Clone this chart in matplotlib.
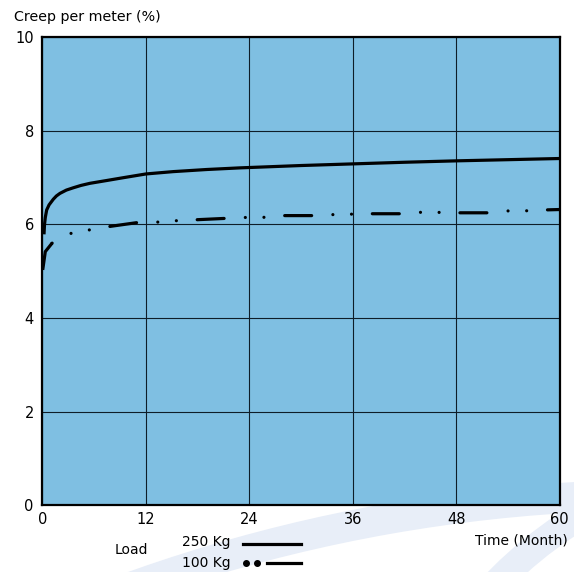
import numpy as np
import matplotlib
matplotlib.use("Agg")
import matplotlib.pyplot as plt
from matplotlib.patches import Arc
from matplotlib.lines import Line2D

plt.rcParams['font.family'] = ['DejaVu Sans']
plt.rcParams['lines.scale_dashes'] = False

# values
months_250 = [0.21, 0.27, 0.36, 0.52, 0.80, 1.29, 1.65, 2.06, 2.8, 3.61, 4.5, 5.54,
              7.48, 9.40, 12.03, 15.2, 19.07, 22.93, 30, 36, 42, 48, 54, 60]
creep_250 = [5.79, 6.00, 6.15, 6.31, 6.42, 6.54, 6.61, 6.665, 6.735, 6.785, 6.835,
             6.88, 6.94, 7.00, 7.08, 7.13, 7.175, 7.21, 7.26, 7.295, 7.33, 7.36,
             7.385, 7.41]

months_100 = [0.06, 0.36, 1.14, 3.34, 5.34, 7.51, 10.99, 13.28, 15.43, 17.68,
              21.16, 23.28, 25.52, 27.65, 31.36, 33.48, 35.65, 37.77, 41.45,
              43.6, 45.7, 47.94, 51.57, 53.7, 55.8, 57.97, 60]
creep_100 = [5.03, 5.42, 5.60, 5.81, 5.88, 5.95, 6.04, 6.05, 6.08, 6.10,
             6.13, 6.15, 6.15, 6.19, 6.19, 6.21, 6.22, 6.23, 6.23,
             6.26, 6.26, 6.25, 6.25, 6.29, 6.29, 6.31, 6.32]
n_solid_100 = 3  # first points of the 100 Kg curve are drawn solid

x_ticks = [0, 12, 24, 36, 48, 60]
y_ticks = [0, 2, 4, 6, 8, 10]

bg = '#7fbfe2'
pale = '#e8eef8'

fig = plt.figure(figsize=(5.74, 5.72), dpi=100)

# pale swooshes in the page background
back = fig.add_axes([0, 0, 1, 1], zorder=-5)
back.set_xlim(0, 574)
back.set_ylim(572, 0)
back.axis('off')
back.add_patch(Arc((660, 2060), 2 * 1565, 2 * 1565, theta1=230, theta2=290,
                   lw=22, color=pale))
back.add_patch(Arc((790, 865), 2 * 407, 2 * 407, theta1=180, theta2=270,
                   lw=20, color=pale))

ax = fig.add_axes([0.0735, 0.1166, 0.9016, 0.8182])
ax.set_facecolor(bg)
ax.set_xlim(0, 60)
ax.set_ylim(0, 10)
ax.set_xticks(x_ticks)
ax.set_yticks(y_ticks)
ax.tick_params(length=0, labelsize=10.5, pad=6)
ax.tick_params(axis='x', pad=5)
ax.grid(True, color='#0e1d28', lw=0.8)
ax.set_axisbelow(True)
for s in ax.spines.values():
    s.set_linewidth(1.6)
    s.set_color('black')

ax.plot(months_250, creep_250, color='black', lw=2.3, solid_capstyle='butt',
        solid_joinstyle='round')

ax.plot(months_100[:n_solid_100], creep_100[:n_solid_100], color='black',
        lw=2.3, solid_capstyle='butt', solid_joinstyle='round')
pattern = [0.01, 13.4, 0.01, 15.0, 19.4, 15.3]
ax.plot(months_100[n_solid_100 - 1:], creep_100[n_solid_100 - 1:], color='black',
        lw=2.3, dash_capstyle='round',
        linestyle=(sum(pattern) - 15.4, pattern))

fig.text(14 / 574, 1 - 17 / 572, 'Creep per meter (%)', fontsize=10.3,
         va='center', ha='left')
fig.text(568 / 574, 1 - 540 / 572, 'Time (Month)', fontsize=10,
         va='center', ha='right')

# custom legend below the chart
fig.text(115 / 574, 1 - 550 / 572, 'Load', fontsize=10, va='center', ha='left')
fig.text(231 / 574, 1 - 542 / 572, '250 Kg', fontsize=10, va='center', ha='right')
fig.text(231 / 574, 1 - 563 / 572, '100 Kg', fontsize=10, va='center', ha='right')
fig.add_artist(Line2D([242.7 / 574, 301 / 574], [1 - 544 / 572, 1 - 544 / 572],
                      color='black', lw=2.3))
fig.add_artist(Line2D([245.7 / 574, 256.7 / 574], [1 - 563 / 572, 1 - 563 / 572],
                      color='black', ls='none', marker='o', ms=4))
fig.add_artist(Line2D([266.7 / 574, 301 / 574], [1 - 563 / 572, 1 - 563 / 572],
                      color='black', lw=2.3))

fig.savefig('out.png', dpi=100)
